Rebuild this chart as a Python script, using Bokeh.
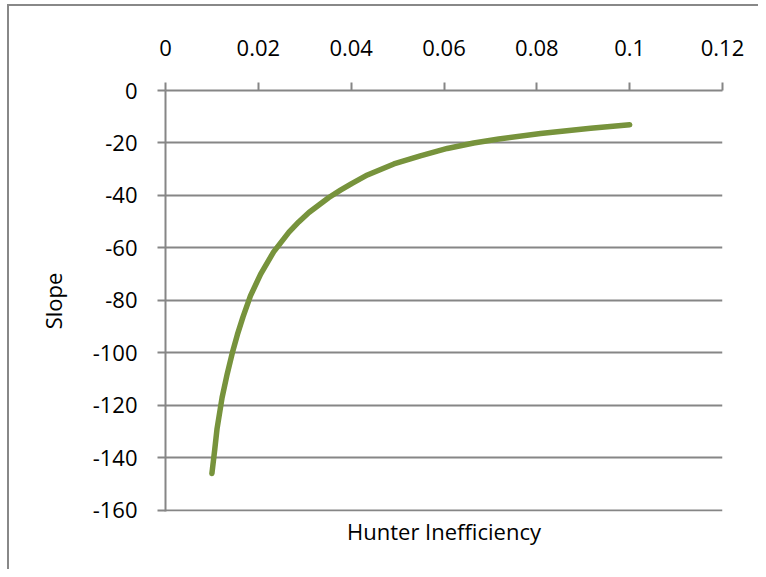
from bokeh.plotting import figure
from bokeh.models import LinearAxis, FixedTicker, Range1d
from bokeh.embed import file_html
from bokeh.resources import INLINE

# Data
hunter_inefficiency = [0.0100, 0.0106, 0.0111, 0.0122, 0.0133, 0.0144, 0.0155, 0.0167,
                       0.0183, 0.0205, 0.0233, 0.0266, 0.0287, 0.0309, 0.0352, 0.0377,
                       0.0402, 0.0435, 0.0492, 0.0549, 0.0607, 0.0664, 0.0718, 0.0808,
                       0.0916, 0.1000]
slope = [-146, -137, -129, -117, -108, -100, -93, -86.3,
         -78.3, -70.0, -61.5, -54.0, -50.1, -46.5, -40.8, -38.0,
         -35.4, -32.2, -28.0, -24.9, -22.1, -20.0, -18.5, -16.4,
         -14.4, -13.1]
x_ticks = [0, 0.02, 0.04, 0.06, 0.08, 0.1, 0.12]
x_tick_labels = ["0", "0.02", "0.04", "0.06", "0.08", "0.1", "0.12"]
y_ticks = [0, -20, -40, -60, -80, -100, -120, -140, -160]
y_tick_labels = ["0", "-20", "-40", "-60", "-80", "-100", "-120", "-140", "-160"]

FONT = "Open Sans"
GRAY = "#868686"

p = figure(width=758, height=569, output_backend="svg", toolbar_location=None,
           x_range=Range1d(0, 0.12), y_range=Range1d(-160.5, 0),
           x_axis_location=None, y_axis_location=None,
           min_border_left=165, min_border_top=90, min_border_right=36, min_border_bottom=58,
           outline_line_color=None, background_fill_color="white", border_fill_color=None)

# outer chart-area border (left and top edges visible), drawn behind the transparent canvas border
p.styles = {
    "background": "linear-gradient(#888888, #888888) 7px 4px / 2px 100% no-repeat, "
                  "linear-gradient(#888888, #888888) 7px 4px / 100% 2px no-repeat, white"
}

# top x axis
xa = LinearAxis(ticker=FixedTicker(ticks=x_ticks))
xa.major_label_overrides = dict(zip(x_ticks, x_tick_labels))
xa.axis_line_color = GRAY
xa.axis_line_width = 2
xa.major_tick_line_color = GRAY
xa.major_tick_line_width = 2
xa.major_tick_in = 0
xa.major_tick_out = 8
xa.minor_tick_line_color = None
xa.major_label_standoff = 27
xa.major_label_text_font = FONT
xa.major_label_text_font_size = "22px"
xa.major_label_text_color = "black"
p.add_layout(xa, "above")

# bottom axis, title only
xb = LinearAxis(ticker=FixedTicker(ticks=[]), axis_label="Hunter Inefficiency")
xb.axis_line_color = None
xb.major_tick_line_color = None
xb.minor_tick_line_color = None
xb.major_label_text_font_size = "0px"
xb.axis_label_standoff = 4
xb.axis_label_text_font = FONT
xb.axis_label_text_font_size = "22px"
xb.axis_label_text_font_style = "normal"
xb.axis_label_text_color = "black"
p.add_layout(xb, "below")

# left y axis
ya = LinearAxis(ticker=FixedTicker(ticks=y_ticks), axis_label="Slope")
ya.major_label_overrides = dict(zip(y_ticks, y_tick_labels))
ya.axis_line_color = GRAY
ya.axis_line_width = 2
ya.major_tick_line_color = GRAY
ya.major_tick_line_width = 2
ya.major_tick_in = 0
ya.major_tick_out = 8
ya.minor_tick_line_color = None
ya.major_label_standoff = 20
ya.major_label_text_font = FONT
ya.major_label_text_font_size = "22px"
ya.major_label_text_color = "black"
ya.axis_label_standoff = 22
ya.axis_label_text_font = FONT
ya.axis_label_text_font_size = "22px"
ya.axis_label_text_font_style = "normal"
ya.axis_label_text_color = "black"
p.add_layout(ya, "left")

p.xgrid.visible = False
p.ygrid.ticker = FixedTicker(ticks=y_ticks)
p.ygrid.grid_line_color = GRAY
p.ygrid.grid_line_width = 2

p.line(hunter_inefficiency, slope, line_color="#77933C", line_width=5.5,
       line_cap="round", line_join="round")

open("out.html", "w").write(file_html(p, INLINE))
